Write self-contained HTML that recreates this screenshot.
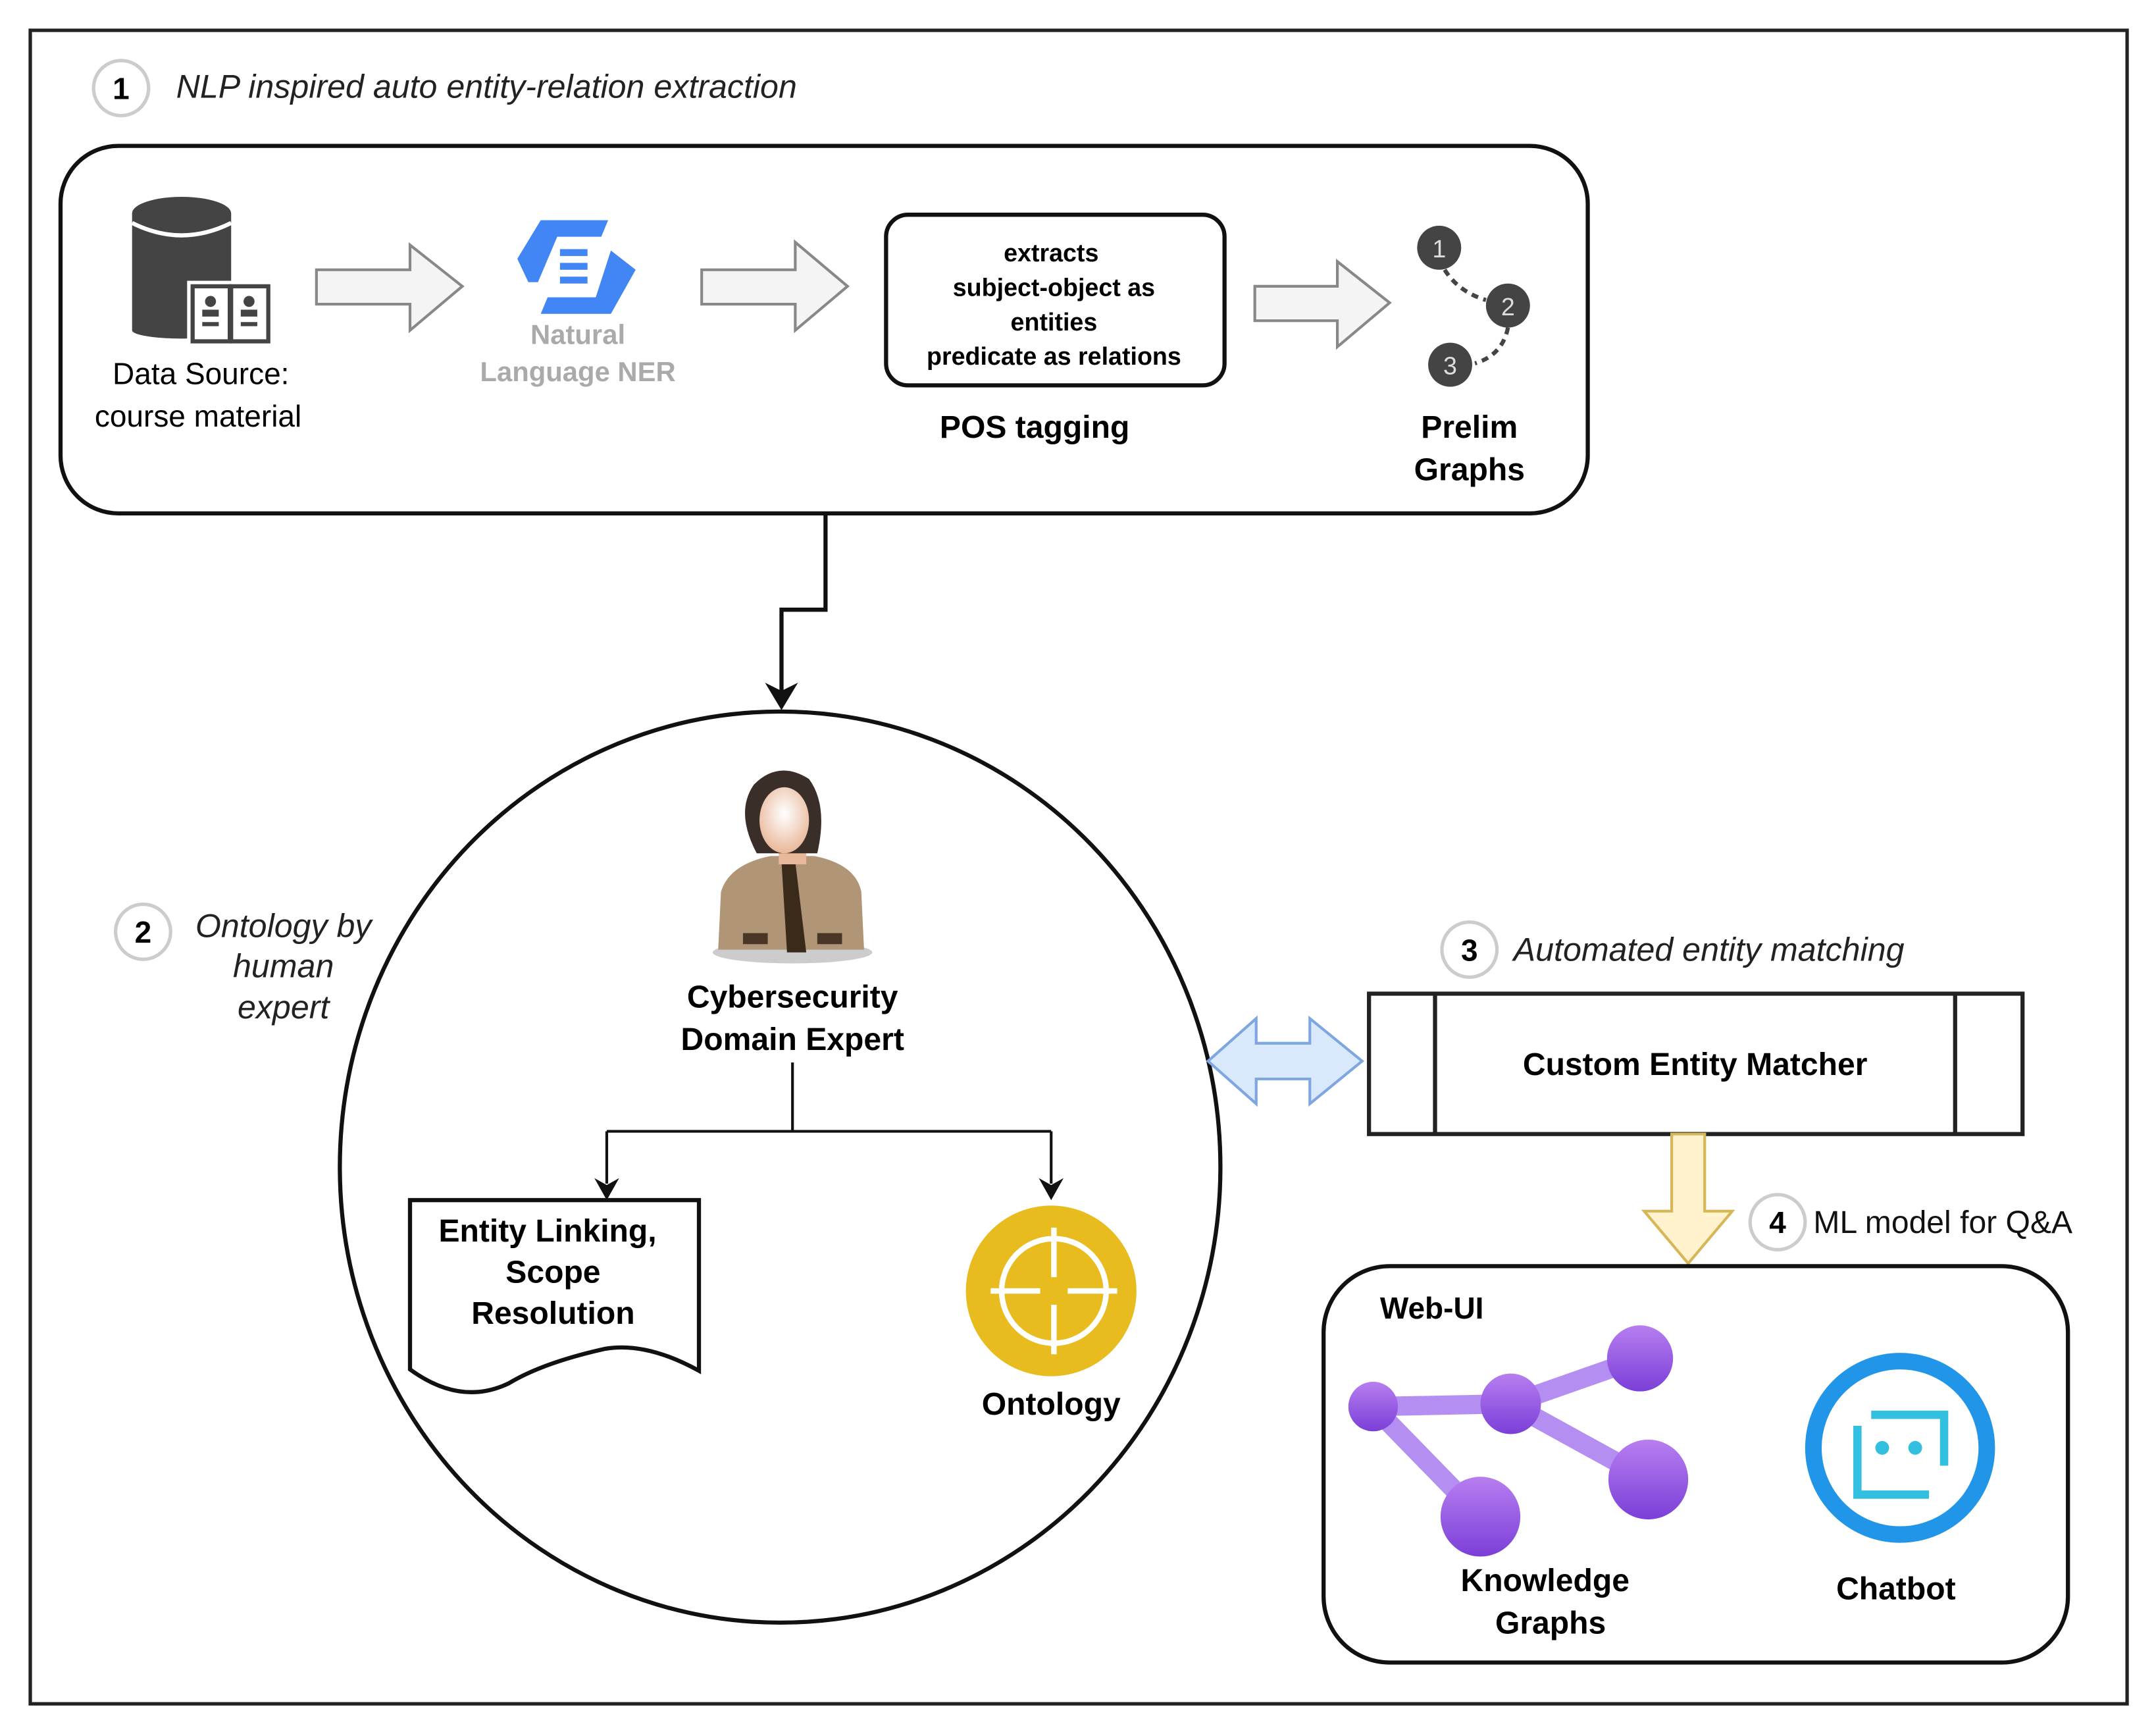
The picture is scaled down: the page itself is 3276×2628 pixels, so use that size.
<!DOCTYPE html>
<html><head><meta charset="utf-8"><style>
html,body{margin:0;padding:0;background:#fff}
svg{display:block}
text{font-family:"Liberation Sans",sans-serif}
</style></head><body>
<svg width="3276" height="2628" viewBox="0 0 1567 1257" xmlns="http://www.w3.org/2000/svg">
<defs>
<linearGradient id="pg" x1="0" y1="0" x2="0" y2="1"><stop offset="0" stop-color="#b77ef0"/><stop offset="1" stop-color="#7b3fd8"/></linearGradient>
<radialGradient id="face" cx="0.5" cy="0.4" r="0.6"><stop offset="0" stop-color="#fff"/><stop offset="1" stop-color="#e9b89a"/></radialGradient>
</defs>
<rect x="22" y="22" width="1524" height="1216" fill="none" stroke="#222" stroke-width="2.5"/>
<!-- Section 1 -->
<circle cx="88" cy="64" r="20" fill="#fff" stroke="#ccc" stroke-width="2.5"/>
<text x="88" y="72" font-size="22" font-weight="bold" text-anchor="middle">1</text>
<text x="128" y="71" font-size="24" font-style="italic" fill="#222">NLP inspired auto entity-relation extraction</text>
<rect x="44" y="106" width="1110" height="267" rx="42" fill="#fff" stroke="#111" stroke-width="3"/>
<!-- database -->
<rect x="96" y="155" width="72" height="85" fill="#444"/>
<ellipse cx="132" cy="240" rx="36" ry="6" fill="#444"/>
<ellipse cx="132" cy="155" rx="36" ry="12" fill="#444"/>
<path d="M96,162 Q132,180 168,162" stroke="#fff" stroke-width="3" fill="none"/>
<rect x="136" y="204" width="62" height="46" fill="#fff"/>
<rect x="140" y="208" width="27" height="40" fill="#fff" stroke="#444" stroke-width="3"/>
<rect x="168" y="208" width="27" height="40" fill="#fff" stroke="#444" stroke-width="3"/>
<circle cx="153" cy="219" r="4" fill="#444"/><circle cx="181" cy="219" r="4" fill="#444"/>
<rect x="147" y="225" width="12" height="5" fill="#444"/><rect x="175" y="225" width="12" height="5" fill="#444"/>
<rect x="147" y="234" width="12" height="3" fill="#444"/><rect x="175" y="234" width="12" height="3" fill="#444"/>
<text x="146" y="279" font-size="22" text-anchor="middle">Data Source:</text>
<text x="144" y="310" font-size="22" text-anchor="middle">course material</text>
<!-- hollow arrows -->
<g fill="#f4f4f4" stroke="#888" stroke-width="2">
<path d="M230,196 L298,196 L298,178 L336,208 L298,240 L298,221 L230,221 Z"/>
<path d="M510,196 L578,196 L578,176 L616,208 L578,240 L578,221 L510,221 Z"/>
<path d="M912,208 L972,208 L972,190 L1010,220 L972,252 L972,233 L912,233 Z"/>
</g>
<!-- NER icon -->
<path d="M393,160 L442,160 L437,172 L405,172 L391,205 L384,205 L376,188 Z" fill="#4285f4"/>
<path d="M444,182 L462,196 L444,228 L393,228 L398,216 L433,216 Z" fill="#4285f4"/>
<rect x="407" y="181" width="20" height="5" fill="#4285f4"/>
<rect x="407" y="191" width="20" height="5" fill="#4285f4"/>
<rect x="407" y="201" width="20" height="5" fill="#4285f4"/>
<text x="420" y="250" font-size="20" font-weight="bold" fill="#aaa" text-anchor="middle">Natural</text>
<text x="420" y="277" font-size="20" font-weight="bold" fill="#aaa" text-anchor="middle">Language NER</text>
<!-- POS box -->
<rect x="644" y="156" width="246" height="124" rx="16" fill="#fff" stroke="#111" stroke-width="3"/>
<g font-size="18" font-weight="bold" text-anchor="middle">
<text x="764" y="190">extracts</text>
<text x="766" y="215">subject-object as</text>
<text x="766" y="240">entities</text>
<text x="766" y="265">predicate as relations</text>
</g>
<text x="752" y="318" font-size="23" font-weight="bold" text-anchor="middle">POS tagging</text>
<!-- prelim graph -->
<path d="M1050,196 Q1060,212 1080,218" stroke="#444" stroke-width="3" fill="none" stroke-dasharray="5,4"/>
<path d="M1096,238 Q1092,258 1072,264" stroke="#444" stroke-width="3" fill="none" stroke-dasharray="5,4"/>
<g fill="#444"><circle cx="1046" cy="180" r="16"/><circle cx="1096" cy="222" r="16"/><circle cx="1054" cy="265" r="16"/></g>
<g fill="#ddd" font-size="18" text-anchor="middle"><text x="1046" y="187">1</text><text x="1096" y="229">2</text><text x="1054" y="272">3</text></g>
<text x="1068" y="318" font-size="23" font-weight="bold" text-anchor="middle">Prelim</text>
<text x="1068" y="349" font-size="23" font-weight="bold" text-anchor="middle">Graphs</text>
<!-- connector -->
<path d="M600,373 L600,443 L568,443 L568,505" stroke="#111" stroke-width="3" fill="none"/>
<path d="M568,516 L556,496 L568,502 L580,496 Z" fill="#111"/>
<!-- big circle -->
<ellipse cx="567" cy="848" rx="320" ry="331" fill="#fff" stroke="#111" stroke-width="3"/>
<!-- section 2 label -->
<circle cx="104" cy="677" r="20" fill="#fff" stroke="#ccc" stroke-width="2.5"/>
<text x="104" y="685" font-size="22" font-weight="bold" text-anchor="middle">2</text>
<g font-size="24" font-style="italic" text-anchor="middle" fill="#222">
<text x="206" y="681">Ontology by</text><text x="206" y="710">human</text><text x="206" y="740">expert</text></g>
<!-- person -->
<ellipse cx="576" cy="692" rx="58" ry="8" fill="#ccc"/>
<path d="M522,690 L524,648 Q530,628 560,622 L592,622 Q622,628 626,648 L628,690 Z" fill="#b09676"/>
<path d="M568,626 L578,626 L586,692 L572,692 Z" fill="#3a2a1a"/>
<rect x="540" y="678" width="18" height="8" fill="#4a3626"/><rect x="594" y="678" width="18" height="8" fill="#4a3626"/>
<rect x="566" y="604" width="20" height="24" fill="#e9b89a"/>
<path d="M550,620 Q534,590 548,570 Q566,552 588,566 Q602,585 594,620 Z" fill="#3a2e28"/>
<ellipse cx="570" cy="596" rx="18" ry="24" fill="url(#face)"/>
<text x="576" y="732" font-size="23" font-weight="bold" text-anchor="middle">Cybersecurity</text>
<text x="576" y="763" font-size="23" font-weight="bold" text-anchor="middle">Domain Expert</text>
<path d="M576,772 L576,822 M441,822 L764,822 M441,822 L441,860 M764,822 L764,860" stroke="#111" stroke-width="2" fill="none"/>
<path d="M441,872 L432,856 L441,861 L450,856 Z" fill="#111"/>
<path d="M764,872 L755,856 L764,861 L773,856 Z" fill="#111"/>
<!-- document -->
<path d="M298,872 L508,872 L508,996 Q470,975 440,980 Q395,990 370,1005 Q335,1022 298,995 Z" fill="#fff" stroke="#111" stroke-width="3"/>
<g font-size="23" font-weight="bold" text-anchor="middle">
<text x="398" y="902">Entity Linking,</text><text x="402" y="932">Scope</text><text x="402" y="962">Resolution</text></g>
<!-- ontology -->
<ellipse cx="764" cy="938" rx="62" ry="62" fill="#e8bb1f"/>
<circle cx="766" cy="938" r="38" fill="none" stroke="#fff" stroke-width="4"/>
<path d="M766,892 L766,928 M766,948 L766,984 M720,938 L756,938 M776,938 L812,938" stroke="#fff" stroke-width="4"/>
<text x="764" y="1028" font-size="23" font-weight="bold" text-anchor="middle">Ontology</text>
<!-- double arrow -->
<path d="M878,771 L913,740 L913,758 L952,758 L952,740 L990,771 L952,802 L952,784 L913,784 L913,802 Z" fill="#dae8fc" stroke="#7ea6e0" stroke-width="2"/>
<!-- section 3 -->
<circle cx="1068" cy="690" r="20" fill="#fff" stroke="#ccc" stroke-width="2.5"/>
<text x="1068" y="698" font-size="22" font-weight="bold" text-anchor="middle">3</text>
<text x="1100" y="698" font-size="24" font-style="italic" fill="#222">Automated entity matching</text>
<rect x="995" y="722" width="475" height="102" fill="#fff" stroke="#222" stroke-width="3"/>
<path d="M1043,722 L1043,824 M1421,722 L1421,824" stroke="#222" stroke-width="3"/>
<text x="1232" y="781" font-size="23" font-weight="bold" text-anchor="middle">Custom Entity Matcher</text>
<!-- yellow arrow -->
<path d="M1215,824 L1239,824 L1239,880 L1259,880 L1227,918 L1195,880 L1215,880 Z" fill="#fff2cc" stroke="#d6b656" stroke-width="2"/>
<!-- section 4 -->
<circle cx="1292" cy="888" r="20" fill="#fff" stroke="#ccc" stroke-width="2.5"/>
<text x="1292" y="896" font-size="22" font-weight="bold" text-anchor="middle">4</text>
<text x="1318" y="896" font-size="23" fill="#111">ML model for Q&amp;A</text>
<!-- Web-UI -->
<rect x="962" y="920" width="541" height="288" rx="48" fill="#fff" stroke="#111" stroke-width="3"/>
<text x="1003" y="958" font-size="22" font-weight="bold">Web-UI</text>
<g stroke="#b48ef0" stroke-width="14" stroke-linecap="round">
<path d="M998,1022 L1098,1020 M1098,1020 L1192,987 M1098,1020 L1198,1075 M998,1022 L1076,1102"/>
</g>
<g fill="url(#pg)">
<circle cx="998" cy="1022" r="18"/><circle cx="1098" cy="1020" r="22"/><circle cx="1192" cy="987" r="24"/>
<circle cx="1198" cy="1075" r="29"/><circle cx="1076" cy="1102" r="29"/></g>
<text x="1123" y="1156" font-size="23" font-weight="bold" text-anchor="middle">Knowledge</text>
<text x="1127" y="1187" font-size="23" font-weight="bold" text-anchor="middle">Graphs</text>
<circle cx="1381" cy="1052" r="63" fill="none" stroke="#2196e8" stroke-width="12"/>
<path d="M1360,1028 L1413,1028 L1413,1065 M1350,1036 L1350,1086 L1402,1086" stroke="#33bfe0" stroke-width="6" fill="none"/>
<circle cx="1368" cy="1052" r="5" fill="#33bfe0"/><circle cx="1392" cy="1052" r="5" fill="#33bfe0"/>
<text x="1378" y="1162" font-size="23" font-weight="bold" text-anchor="middle">Chatbot</text>
</svg>
</body></html>
